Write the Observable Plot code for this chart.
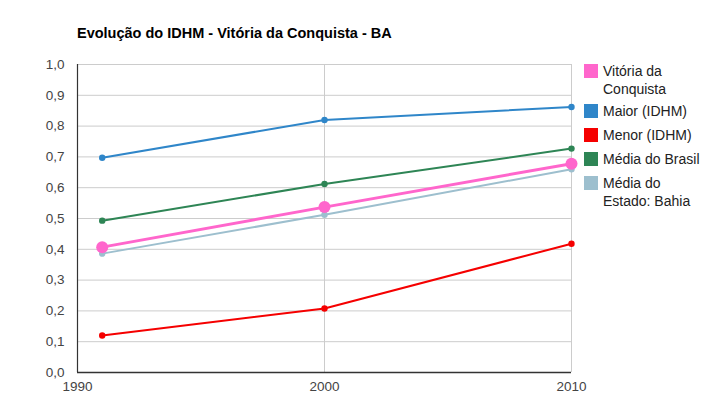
<!DOCTYPE html>
<html>
<head>
<meta charset="utf-8">
<script src="https://cdn.jsdelivr.net/npm/d3@7"></script>
<script src="https://cdn.jsdelivr.net/npm/@observablehq/plot@0.6"></script>
<style>
  html, body { margin: 0; padding: 0; background: #fff; }
  body { width: 727px; height: 417px; position: relative; overflow: hidden; font-family: "Liberation Sans", Arial, sans-serif; }
  #title { position: absolute; left: 77px; top: 25px; font-size: 14.5px; font-weight: bold; color: #000; }
  #chart { position: absolute; left: 0; top: 50px; }
  #chart svg text { font-size: 13.5px !important; font-family: "Liberation Sans", Arial, sans-serif !important; }
  #legend { position: absolute; left: 584px; top: 0; font-size: 14px; color: #222; }
  .item { position: absolute; left: 0; width: 143px; }
  .sw { position: absolute; left: 0; top: 0; width: 14px; height: 14px; }
  .lbl { position: absolute; left: 19px; top: -2px; line-height: 18px; white-space: nowrap; }
</style>
</head>
<body>
<div id="title">Evolução do IDHM - Vitória da Conquista - BA</div>
<div id="chart"></div>
<div id="legend"></div>
<script>
const years = [1991, 2000, 2010];
const seriesNames = ["Vitória da Conquista", "Maior (IDHM)", "Menor (IDHM)", "Média do Brasil", "Média do Estado: Bahia"];
const legendLabels = ["Vitória da<br>Conquista", "Maior (IDHM)", "Menor (IDHM)", "Média do Brasil", "Média do<br>Estado: Bahia"];
const seriesColors = ["#ff66cc", "#2f86c9", "#f50000", "#2e8555", "#9dbfce"];
const vitoria = [0.407, 0.537, 0.678];
const maior = [0.697, 0.820, 0.862];
const menor = [0.120, 0.208, 0.418];
const brasil = [0.493, 0.612, 0.727];
const bahia = [0.386, 0.512, 0.660];
const xTicks = [1990, 2000, 2010];
const yTicks = [0, 0.1, 0.2, 0.3, 0.4, 0.5, 0.6, 0.7, 0.8, 0.9, 1.0];

const allValues = [vitoria, maior, menor, brasil, bahia];
const rows = [];
allValues.forEach((vals, i) => vals.forEach((v, j) => rows.push({serie: seriesNames[i], year: years[j], value: v})));
const main = rows.filter(d => d.serie === seriesNames[0]);
const others = rows.filter(d => d.serie !== seriesNames[0]);

const fmt = d => d3.format(".1f")(d).replace(".", ",");

const chart = Plot.plot({
  width: 727,
  height: 367,
  marginTop: 14,
  marginBottom: 45,
  marginLeft: 77,
  marginRight: 156,
  style: { fontFamily: "Liberation Sans, Arial, sans-serif", fontSize: "13px", color: "#444", background: "#fff" },
  x: { domain: [1990, 2010], label: null },
  y: { domain: [0, 1], label: null },
  color: { domain: seriesNames, range: seriesColors },
  marks: [
    Plot.ruleY(yTicks.slice(1), { stroke: "#cccccc", strokeWidth: 1 }),
    Plot.ruleX(xTicks.slice(1), { stroke: "#cccccc", strokeWidth: 1 }),
    Plot.axisX({ ticks: xTicks, tickFormat: d => String(d), tickSize: 0, tickPadding: 9, fill: "#444", label: null }),
    Plot.axisY({ ticks: yTicks, tickFormat: fmt, tickSize: 0, tickPadding: 13, fill: "#444", label: null }),
    Plot.line(others, { x: "year", y: "value", z: "serie", stroke: "serie", strokeWidth: 2 }),
    Plot.dot(others, { x: "year", y: "value", fill: "serie", r: 3.2 }),
    Plot.line(main, { x: "year", y: "value", stroke: "serie", strokeWidth: 3 }),
    Plot.dot(main, { x: "year", y: "value", fill: "serie", r: 6 }),
    Plot.ruleX([1990], { stroke: "#333", strokeWidth: 1.2 }),
    Plot.ruleY([0], { stroke: "#333", strokeWidth: 1.5 })
  ]
});
document.getElementById("chart").appendChild(chart);

const legendTops = [64, 104, 128, 152, 176];
const legend = document.getElementById("legend");
seriesNames.forEach((name, i) => {
  const item = document.createElement("div");
  item.className = "item";
  item.style.top = legendTops[i] + "px";
  item.innerHTML = `<div class="sw" style="background:${seriesColors[i]}"></div><div class="lbl">${legendLabels[i]}</div>`;
  legend.appendChild(item);
});
</script>
</body>
</html>
